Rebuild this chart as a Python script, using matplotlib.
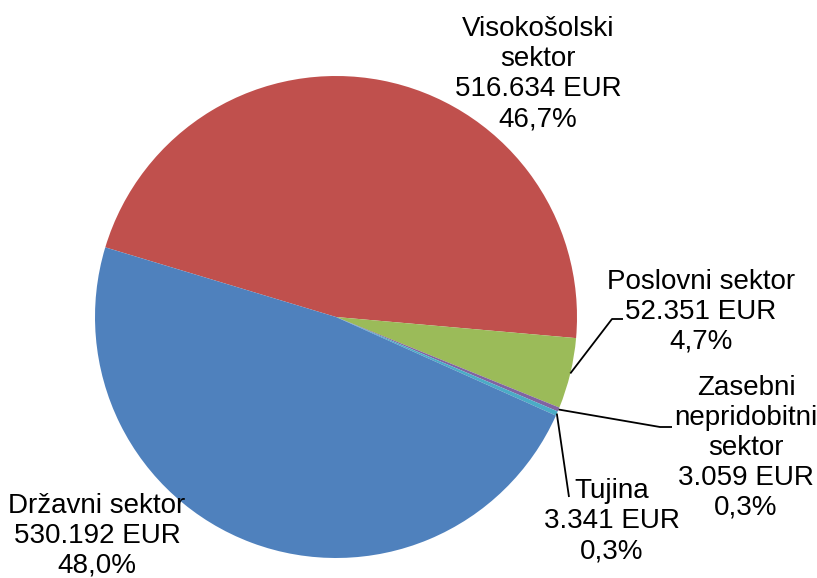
import numpy as np
import matplotlib
matplotlib.use("Agg")
import matplotlib.pyplot as plt

plt.rcParams['font.family'] = ['Liberation Sans', 'DejaVu Sans']

# podatki (vrstni red v smeri urinega kazalca)
sektorji = ["Visokošolski\nsektor", "Poslovni sektor", "Zasebni\nnepridobitni\nsektor", "Tujina", "Državni sektor"]
vrednosti = [516634, 52351, 3059, 3341, 530192]
barve = ["#C0504D", "#9BBB59", "#8064A2", "#4BACC6", "#4F81BD"]


def fmt_eur(v):
    return f"{v:,}".replace(",", ".") + " EUR"


def fmt_pct(v, total):
    return f"{100 * v / total:.1f}%".replace(".", ",")


W, H = 817, 578
fig = plt.figure(figsize=(W / 100, H / 100), dpi=100)
ax = fig.add_axes([0, 0, 1, 1])

cx, cy, r = 336, H - 317, 241
wedges, _ = ax.pie(vrednosti, colors=barve, startangle=163.2, counterclock=False,
                   center=(cx, cy), radius=r, frame=True,
                   wedgeprops=dict(linewidth=0))
ax.set_xlim(0, W)
ax.set_ylim(0, H)
ax.set_aspect('equal')
ax.axis('off')

total = sum(vrednosti)
# položaji oznak (x, y v pikslih od zgoraj) in lomne točke vodilnih črt
oznake = [
    dict(xy=(538, 74), elbow=None),
    dict(xy=(701, 312), elbow=[(623, 319), (612, 319)]),
    dict(xy=(746, 448), elbow=[(672, 427), (660, 427)]),
    dict(xy=(612, 521), elbow=[(569, 497)]),
    dict(xy=(97, 536), elbow=None),
]

for w, ime, v, o in zip(wedges, sektorji, vrednosti, oznake):
    besedilo = f"{ime}\n{fmt_eur(v)}\n{fmt_pct(v, total)}"
    x, y = o['xy']
    ax.text(x, H - y, besedilo, ha='center', va='center', fontsize=20,
            linespacing=1.2, color='black')
    if o['elbow']:
        mid = np.deg2rad((w.theta1 + w.theta2) / 2)
        tocke = [(cx + r * np.cos(mid), cy + r * np.sin(mid))]
        tocke += [(px, H - py) for px, py in reversed(o['elbow'])]
        xs, ys = zip(*tocke)
        ax.plot(xs, ys, color='black', linewidth=1.3, solid_capstyle='butt')

fig.savefig("out.png", dpi=100)
